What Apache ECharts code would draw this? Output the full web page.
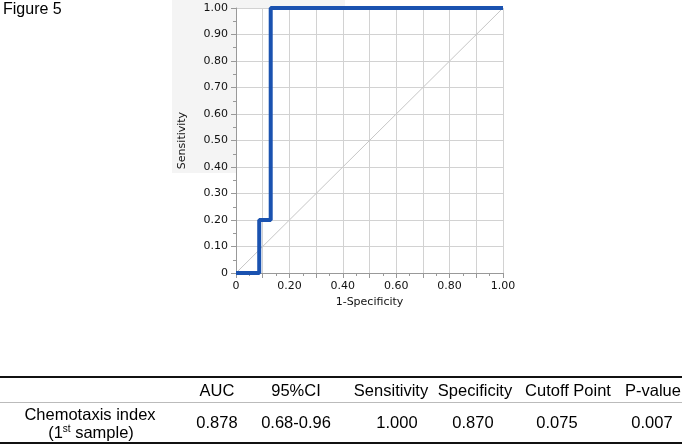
<!DOCTYPE html>
<html>
<head>
<meta charset="utf-8">
<script src="https://cdn.jsdelivr.net/npm/echarts@6/dist/echarts.min.js"></script>
<style>
  html, body { margin: 0; padding: 0; background: #fff; }
  #rocChart { width: 691px; height: 444px; }
</style>
</head>
<body>
<div id="rocChart"></div>
<script>
// ROC curve points (1-Specificity, Sensitivity)
const fprValues = [0, 0.087, 0.087, 0.13, 0.13, 1.0];
const tprValues = [0, 0, 0.2, 0.2, 1.0, 1.0];
const refLine = [[0, 0], [1, 1]];

// summary table
const tableHeaders = ['AUC', '95%CI', 'Sensitivity', 'Specificity', 'Cutoff Point', 'P-value'];
const tableValues = ['0.878', '0.68-0.96', '1.000', '0.870', '0.075', '0.007'];
const rowLabel = ['Chemotaxis index', '(1{sup|st} sample)'];

function drawRocChart() {
    const chart = echarts.init(document.getElementById('rocChart'));
    const axisFont = '"DejaVu Sans", Verdana, sans-serif';
    const tableFont = '"Liberation Sans", Arial, sans-serif';

    const headerX = [217, 296, 391, 475, 568, 653];
    const valueX = [217, 296, 397, 473, 557, 652];

    const tableGraphics = [
        { type: 'line', shape: { x1: 0, y1: 377, x2: 682, y2: 377 }, style: { stroke: '#111', lineWidth: 2 } },
        { type: 'line', shape: { x1: 0, y1: 402.5, x2: 682, y2: 402.5 }, style: { stroke: '#bbb', lineWidth: 1 } },
        { type: 'line', shape: { x1: 0, y1: 443, x2: 682, y2: 443 }, style: { stroke: '#111', lineWidth: 2 } }
    ];
    tableHeaders.forEach((h, i) => {
        tableGraphics.push({
            type: 'text', x: headerX[i], y: 391,
            style: { text: h, font: '16.5px ' + tableFont, fill: '#000', align: 'center', verticalAlign: 'middle' }
        });
        tableGraphics.push({
            type: 'text', x: valueX[i], y: 423,
            style: { text: tableValues[i], font: '16.5px ' + tableFont, fill: '#000', align: 'center', verticalAlign: 'middle' }
        });
    });
    tableGraphics.push({
        type: 'text', x: 90, y: 415,
        style: { text: rowLabel[0], font: '16.5px ' + tableFont, fill: '#000', align: 'center', verticalAlign: 'middle' }
    });
    tableGraphics.push({
        type: 'text', x: 91, y: 433,
        style: {
            text: rowLabel[1], fontFamily: tableFont, fontSize: 16.5, fill: '#000',
            align: 'center', verticalAlign: 'middle',
            rich: { sup: { fontSize: 10, fontFamily: tableFont, verticalAlign: 'top', padding: [0, 0, 8, 0] } }
        }
    });

    const option = {
        animation: false,
        backgroundColor: '#fff',
        graphic: [
            { type: 'rect', z: -10, shape: { x: 172, y: 0, width: 173, height: 173 }, style: { fill: '#f4f4f4' } },
            { type: 'text', x: 3, y: 2, style: { text: 'Figure 5', font: '16px ' + tableFont, fill: '#000' } }
        ].concat(tableGraphics),
        grid: {
            left: 236,
            right: 188,
            top: 8,
            bottom: 171,
            show: true,
            backgroundColor: '#fff',
            borderWidth: 0
        },
        xAxis: {
            type: 'value',
            min: 0,
            max: 1,
            interval: 0.1,
            name: '1-Specificity',
            nameLocation: 'middle',
            nameGap: 21,
            nameTextStyle: { fontFamily: axisFont, fontSize: 11, color: '#111' },
            axisLine: { lineStyle: { color: '#999' } },
            axisTick: { show: true, length: 5, lineStyle: { color: '#999' } },
            minorTick: { show: true, splitNumber: 2, length: 3, lineStyle: { color: '#999' } },
            splitLine: { show: true, lineStyle: { color: '#d2d2d2', width: 1 } },
            axisLabel: {
                fontFamily: axisFont,
                fontSize: 11,
                color: '#111',
                margin: 8,
                formatter: v => {
                    const k = Math.round(v * 10);
                    if (k % 2 !== 0) return '';
                    return k === 0 ? '0' : v.toFixed(2);
                }
            }
        },
        yAxis: {
            type: 'value',
            min: 0,
            max: 1,
            interval: 0.1,
            name: 'Sensitivity',
            nameLocation: 'middle',
            nameGap: 48,
            nameTextStyle: { fontFamily: axisFont, fontSize: 11, color: '#111' },
            axisLine: { show: true, lineStyle: { color: '#999' } },
            axisTick: { show: true, length: 5, lineStyle: { color: '#999' } },
            minorTick: { show: true, splitNumber: 2, length: 3, lineStyle: { color: '#999' } },
            splitLine: { show: true, lineStyle: { color: '#d2d2d2', width: 1 } },
            axisLabel: {
                fontFamily: axisFont,
                fontSize: 11,
                color: '#111',
                margin: 8,
                formatter: v => (v === 0 ? '0' : v.toFixed(2))
            }
        },
        series: [
            {
                name: 'Reference',
                type: 'line',
                data: refLine,
                symbol: 'none',
                lineStyle: { color: '#c6c6c6', width: 1 },
                z: 2
            },
            {
                name: 'ROC',
                type: 'line',
                data: fprValues.map((x, i) => [x, tprValues[i]]),
                symbol: 'none',
                lineStyle: { color: '#1a52b0', width: 4 },
                z: 3
            }
        ]
    };

    chart.setOption(option);
}

drawRocChart();
</script>
</body>
</html>
